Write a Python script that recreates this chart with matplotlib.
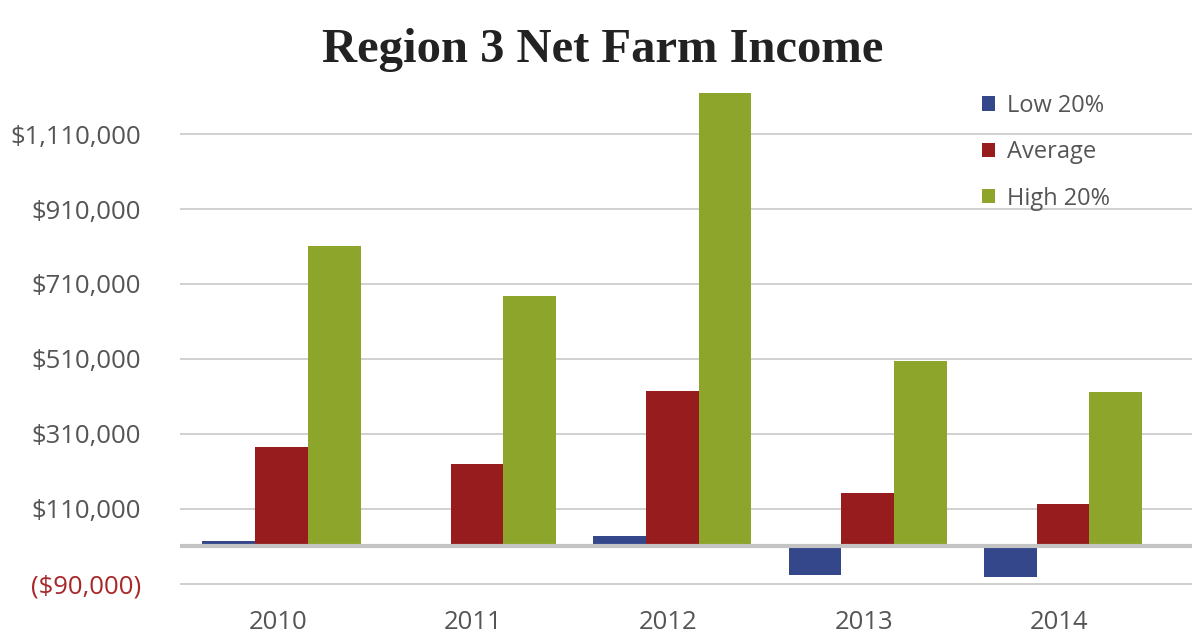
import matplotlib
matplotlib.use("Agg")
import matplotlib.pyplot as plt
import numpy as np

# data
years = ["2010", "2011", "2012", "2013", "2014"]
low_20 = [13000, 0, 28000, -78000, -83000]
average = [265000, 220000, 415000, 142000, 112000]
high_20 = [802000, 668000, 1211000, 495000, 412000]

series_names = ["Low 20%", "Average", "High 20%"]
series_colors = ["#33478a", "#961c1d", "#8ca52a"]

# gridlines sit at odd hundreds of thousands, labels as printed on the chart
grid_values = [-100000, 100000, 300000, 500000, 700000, 900000, 1100000]
grid_labels = ["($90,000)", "$110,000", "$310,000", "$510,000",
               "$710,000", "$910,000", "$1,110,000"]

fig = plt.figure(figsize=(11.92, 6.39), dpi=100)
ax = fig.add_axes([0.151, 0.061, 0.849, 0.811])

x = np.arange(len(years))
w = 0.27
for i, (vals, name, col) in enumerate(zip([low_20, average, high_20], series_names, series_colors)):
    ax.bar(x + (i - 1) * w + 0.02, vals, width=w, color=col, label=name, zorder=3)

ax.set_xlim(-0.5, 4.68)
ax.set_ylim(-144000, 1240000)

ax.set_yticks(grid_values)
ax.set_yticklabels(grid_labels)
ax.yaxis.grid(True, color="#c8c8c8", linewidth=1.2, zorder=0)
ax.axhline(0, color="#c4c4c4", linewidth=3, zorder=4)

ax.set_xticks(x)
ax.set_xticklabels(years)
ax.tick_params(axis="both", length=0, labelsize=18.5, labelcolor="#555555", labelfontfamily="Open Sans")
ax.tick_params(axis="y", pad=28)
ax.tick_params(axis="x", pad=7)
for lbl in ax.get_yticklabels():
    lbl.set_color("#a8282a" if lbl.get_text().startswith("(") else "#555555")

for s in ax.spines.values():
    s.set_visible(False)

fig.text(0.506, 0.922, "Region 3 Net Farm Income", ha="center", va="center",
         fontsize=35, fontweight="bold", family="Liberation Serif", color="#222222")

leg = ax.legend(loc="upper left", bbox_to_anchor=(0.783, 0.995), frameon=False,
                prop={"family": "Open Sans", "size": 17}, handlelength=0.55, handleheight=0.55,
                handletextpad=0.5, labelspacing=0.95, borderaxespad=0)
for t in leg.get_texts():
    t.set_color("#555555")

fig.savefig("out.png", dpi=100)
